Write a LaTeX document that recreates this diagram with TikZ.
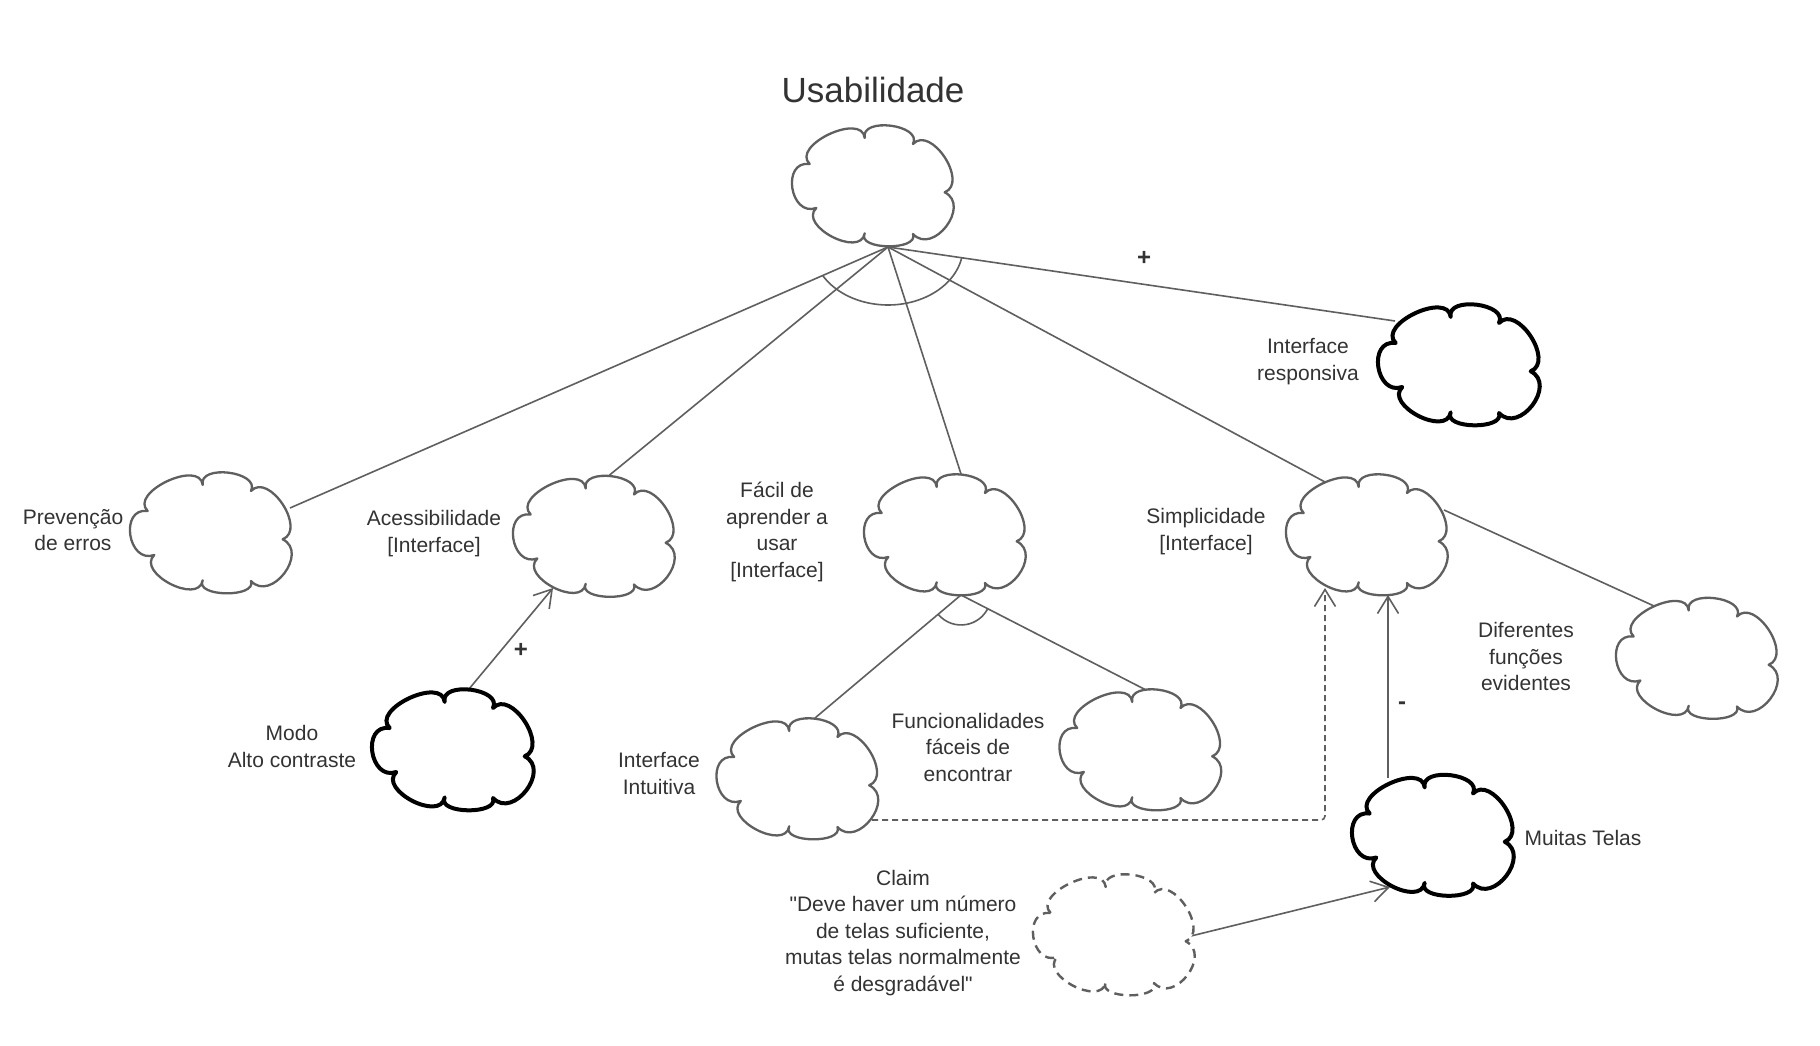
\documentclass[tikz,border=0pt]{standalone}
\usepackage{fontspec}
\setmainfont{Liberation Sans}[Ligatures=TeXOff]
\usetikzlibrary{arrows.meta,calc}
\definecolor{ln}{RGB}{95,95,95}
\definecolor{tx}{RGB}{51,51,51}
\tikzset{
 cloudpic/.pic={\path[pic actions] (-62.3,-22.0) .. controls (-81.5,-40.4) and (-10.0,-74.2) .. (-7.3,-48.0)
   .. controls (-12.0,-69.3) and (50.7,-61.5) .. (41.0,-42.0)
   .. controls (58.9,-61.3) and (97.0,-3.4) .. (72.7,6.3)
   .. controls (99.2,19.6) and (61.1,69.7) .. (41.0,48.0)
   .. controls (47.15,65.0) and (-15.65,64.1) .. (-7.3,47.3)
   .. controls (-11.3,72.5) and (-74.3,39.6) .. (-55.7,22.0)
   .. controls (-82.3,31.3) and (-90.9,-25.9) .. (-62.3,-22.0) -- cycle;}
}
\begin{document}
\begin{tikzpicture}[x=1pt,y=-1pt,
  cg/.style={draw=ln,line width=2.3pt,fill=white,line join=round},
  cb/.style={draw=black,line width=4pt,fill=white,line join=round},
  cd/.style={draw=ln,line width=2.4pt,fill=white,dash pattern=on 9pt off 6pt,line join=round},
  cloudbox/.style={minimum width=160pt,minimum height=121pt,inner sep=0pt},
  lbl/.style={align=center,text=tx,font=\fontsize{21}{26.5}\selectfont,inner sep=0pt},
  sgn/.style={text=tx,font=\bfseries\fontsize{24}{24}\selectfont,inner sep=0pt},
  conn/.style={draw=ln,line width=1.6pt},
  arr/.style={conn,-{Straight Barb[length=17pt,width=21pt]}},
]
\fill[white] (0,0) rectangle (1820,1046);
\useasboundingbox (0,0) rectangle (1820,1046);

% cloud nodes
\node[cloudbox] (usab)   at (872,186) {};
\node[cloudbox] (prev)   at (210,533) {};
\node[cloudbox] (acc)    at (593,536.5) {};
\node[cloudbox] (modo)   at (452,750) {};
\node[cloudbox] (facil)  at (944,535) {};
\node[cloudbox] (intu)   at (796.5,779) {};
\node[cloudbox] (func)   at (1139.5,750) {};
\node[cloudbox] (simp)   at (1366,535) {};
\node[cloudbox] (diff)   at (1696,658.5) {};
\node[cloudbox] (resp)   at (1458,365) {};
\node[cloudbox] (muitas) at (1432,835.5) {};
\node[cloudbox] (claim)  at (1113,935) {};

\coordinate (conv) at ($(usab)+(16,61)$);
\coordinate (fb) at ($(facil)+(17,60)$);

% connectors
\draw[conn] (conv) -- ($(prev)+(80,-25)$);
\draw[conn] (conv) -- ($(acc)+(16,-61)$);
\draw[conn] (conv) -- ($(facil)+(17,-61)$);
\draw[conn] (conv) -- ($(simp)+(-41,-53)$);
\draw[conn] (conv) -- ($(resp)+(-63,-44)$);
\draw[conn] ($(conv)+(-65.3,28.5)$) arc[start angle=150.56,end angle=10.69,x radius=75,y radius=58];

\draw[conn] (fb) -- ($(intu)+(18.5,-61)$);
\draw[conn] (fb) -- ($(func)+(6.5,-60)$);
\draw[conn] ($(fb)+(-22.9,19.3)$) arc[start angle=139.9,end angle=27.2,radius=30];

\draw[conn] ($(simp)+(78,-25)$) -- ($(diff)+(-42,-52.5)$);
\draw[arr] ($(modo)+(17,-61)$) -- ($(acc)+(-40,51.5)$);
\draw[arr,dash pattern=on 6pt off 4pt,rounded corners=4pt] ($(intu)+(75.5,41)$) -| ($(simp)+(-41,53)$);
\draw[arr] ($(muitas)+(-44,-57.5)$) -- ($(simp)+(22,60)$);
\draw[arr] ($(claim)+(74,2)$) -- ($(muitas)+(-42,51.5)$);

\node[sgn] (p1) at (1144,258) {+};
\node[sgn] (p2) at (521,650) {+};
\node[sgn] (m1) at (1402,706) {-};

% clouds
\pic[cg] at (usab) {cloudpic};
\pic[cg] at (prev) {cloudpic};
\pic[cg] at (acc) {cloudpic};
\pic[cb] at (modo) {cloudpic};
\pic[cg] at (facil) {cloudpic};
\pic[cg] at (intu) {cloudpic};
\pic[cg] at (func) {cloudpic};
\pic[cg] at (simp) {cloudpic};
\pic[cg] at (diff) {cloudpic};
\pic[cb] at (resp) {cloudpic};
\pic[cb] at (muitas) {cloudpic};
\pic[cd] at (claim) {cloudpic};

% texts
\node[font=\fontsize{35}{40}\selectfont,text=tx,inner sep=0pt] (title) at (873,90) {Usabilidade};
\node[lbl] (tprev) at (73,530) {Prevenção\\de erros};
\node[lbl] (tacc) at (434,533.5) {Acessibilidade\\{}[Interface]};
\node[lbl] (tmodo) at (292,746.5) {Modo\\Alto contraste};
\node[lbl] (tfacil) at (777,532) {Fácil de\\aprender a\\usar\\{}[Interface]};
\node[lbl] (tintu) at (659,773.5) {Interface\\Intuitiva};
\node[lbl] (tfunc) at (968,747) {Funcionalidades\\fáceis de\\encontrar};
\node[lbl] (tsimp) at (1206,531.5) {Simplicidade\\{}[Interface]};
\node[lbl] (tresp) at (1308,361.5) {Interface\\responsiva};
\node[lbl] (tdiff) at (1526,656.5) {Diferentes\\funções\\evidentes};
\node[lbl] (tmuit) at (1583,838) {Muitas Telas};
\node[lbl] (tclaim) at (903,933) {Claim\\"Deve haver um número\\de telas suficiente,\\mutas telas normalmente\\é desgradável"};
\end{tikzpicture}
\end{document}
